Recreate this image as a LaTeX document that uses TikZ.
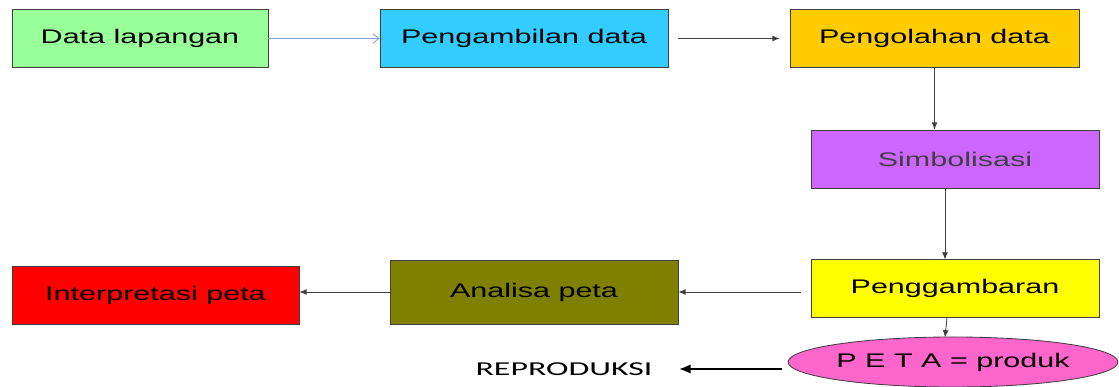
\documentclass[tikz,border=0pt]{standalone}
\usepackage{fontspec}
\setmainfont{Liberation Sans}[FakeStretch=1.55]
\newfontfamily\reprofont{Carlito}[FakeStretch=1.72]
\usetikzlibrary{arrows.meta}
\usetikzlibrary{shapes.geometric}
\usetikzlibrary{calc}

\definecolor{hijau}{HTML}{99FF99}
\definecolor{biru}{HTML}{33CCFF}
\definecolor{jingga}{HTML}{FFCC00}
\definecolor{ungu}{HTML}{CC66FF}
\definecolor{kuning}{HTML}{FFFF00}
\definecolor{zaitun}{HTML}{808000}
\definecolor{merah}{HTML}{FF0000}
\definecolor{merahmuda}{HTML}{FF66CC}
\definecolor{garis}{HTML}{404040}
\definecolor{panahbiru}{HTML}{7F9FD0}

\begin{document}
\begin{tikzpicture}[x=0.025cm, y=-0.025cm,
    kotak/.style={draw=garis, line width=0.6pt, minimum width=7.2cm, minimum height=1.43cm,
                  font=\fontsize{14}{16}\selectfont, inner sep=0pt},
    panah/.style={-{Latex[length=1.8mm,width=1.5mm]}, draw=garis, line width=0.6pt},
    panahtebal/.style={-{Latex[length=3mm,width=2.4mm]}, line width=1.8pt}]
            \useasboundingbox (0,0) rectangle (1119,387);

            % Top row
            \node[kotak, fill=hijau, minimum width=6.4cm] (lapangan) at (140,38.5) {Data lapangan};
            \node[kotak, fill=biru] (ambil) at (524,38.5) {Pengambilan data};
            \node[kotak, fill=jingga, minimum width=7.225cm] (olah) at (934.5,38.5) {Pengolahan data};

            % Right column
            \node[kotak, fill=ungu, minimum height=1.45cm, text=garis] (simbol) at (955,159) {Simbolisasi};
            \node[kotak, fill=kuning] (gambar) at (955,288.5) {Penggambaran};
            \node[ellipse, draw=garis, line width=0.6pt, fill=merahmuda, minimum width=8.2cm,
                  minimum height=1.25cm, inner sep=0pt, font=\fontsize{14}{16}\selectfont]
                  (peta) at (953,362) {P E T A = produk};

            % Bottom row
            \node[kotak, fill=zaitun, minimum height=1.6cm] (analisa) at (534,292) {Analisa peta};
            \node[kotak, fill=merah, minimum width=7.175cm, minimum height=1.45cm] (interp) at (155.5,295) {Interpretasi peta};
            \node[font=\reprofont\fontsize{14}{16}\selectfont, inner sep=0pt] (repro) at (564,369) {REPRODUKSI};

            % Arrows
            \draw[-{Straight Barb[length=1.5mm,width=2.4mm]}, panahbiru, line width=0.6pt] (lapangan) -- (ambil);
            \draw[panah, shorten <=0.25cm, shorten >=0.25cm] (ambil) -- (olah);
            \draw[panah] (olah.south) -- (olah.south |- simbol.north);
            \draw[panah] ([xshift=-0.25cm]simbol.south) -- ([xshift=-0.25cm]gambar.north);
            \draw[panah] ([xshift=-0.2cm]gambar.south) -- ([xshift=-0.2cm, yshift=-0.02cm]peta.north);
            \draw[panah, shorten <=0.25cm] (analisa.east -| gambar.west) -- (analisa.east);
            \draw[panah] (analisa.west) -- (analisa.west -| interp.east);
            \draw[panahtebal, shorten <=0.15cm, shorten >=0.65cm] (repro.east -| peta.west) -- (repro.east);
        \end{tikzpicture}
\end{document}
